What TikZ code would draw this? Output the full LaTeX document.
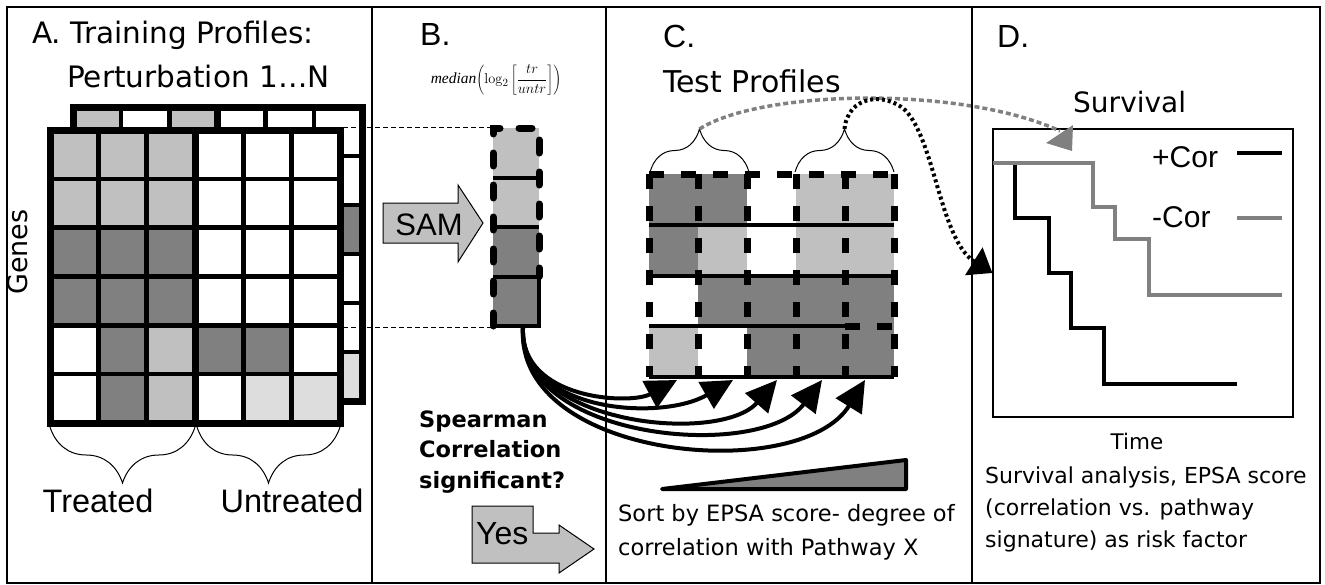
\documentclass[tikz,border=0pt]{standalone}
\usepackage[no-math]{fontspec}
\setmainfont{DejaVu Sans}
\newfontfamily\arialfont{Liberation Sans}
\newfontfamily\timesfont{Liberation Serif}
\usetikzlibrary{arrows.meta,decorations.pathreplacing}
\definecolor{lgray}{HTML}{C0C0C0}
\definecolor{dgray}{HTML}{808080}
\definecolor{vlgray}{HTML}{DDDDDD}
\newcommand{\textpx}[2]{\fontsize{#1}{#2}\selectfont}

\begin{document}
\begin{tikzpicture}[x=1pt,y=-1pt,
  grid line/.style={line width=4.5pt},
  edge line/.style={line width=7pt},
  square dash/.style={line width=7pt,dash pattern=on 15pt off 17pt},
  round dash/.style={line width=7pt,line cap=round,dash pattern=on 13pt off 19pt},
  link/.style={line width=4pt,-{Triangle[length=31pt,width=30pt]}},
  black dot/.style={line width=4pt,dash pattern=on 3pt off 3pt,-{Triangle[length=22pt,width=32pt]}},
  gray dot/.style={line width=3.5pt,dgray,dash pattern=on 5pt off 3pt},
  curly/.style={decorate,decoration={brace,amplitude=#1},line width=1pt},
  txt/.style={inner sep=0pt,anchor=base west},
  big label/.style={txt,font=\arialfont\textpx{32}{36}}]

\useasboundingbox (0,0) rectangle (1325,584);

% A: back sheet
\fill[white] (73,107) rectangle (362,401);
\foreach \col [count=\c from 0] in {lgray,white,lgray,white,white,white}
  \fill[\col] ({73+\c*48.17},107) rectangle ++(48.17,49);
\foreach \col [count=\r from 0] in {white,white,dgray,white,white,vlgray}
  \fill[\col] (313.8,{107+\r*49}) rectangle ++(48.2,49);
\foreach \i in {1,...,5} {
  \draw[grid line] ({73+\i*48.17},107) -- ++(0,294);
  \draw[grid line] (73,{107+\i*49}) -- ++(289,0);
}
\draw[edge line] (217.5,107) -- ++(0,294);
\draw[edge line] (73,107) rectangle (362,401);

% A: front sheet
\foreach \row [count=\r from 0] in {{lgray,lgray,lgray,white,white,white},
    {lgray,lgray,lgray,white,white,white},{dgray,dgray,dgray,white,white,white},
    {dgray,dgray,dgray,white,white,white},{white,dgray,lgray,dgray,dgray,white},
    {white,dgray,lgray,white,vlgray,vlgray}}
  \foreach \col [count=\c from 0] in \row
    \fill[\col] ({50+\c*48.33},{130+\r*48.83}) rectangle ++(48.33,48.83);
\foreach \i in {1,...,5} {
  \draw[grid line] ({50+\i*48.33},130) -- ++(0,293);
  \draw[grid line] (50,{130+\i*48.83}) -- ++(290,0);
}
\draw[edge line] (195,130) -- ++(0,293);
\draw[edge line] (50,130) rectangle (340,423);

\node[txt,font=\textpx{29.5}{32}] (titleA) at (32,43) {A. Training Profiles:};
\node[txt,font=\textpx{29.5}{32}] (pert) at (67,87) {Perturbation 1…N};
\node[rotate=90,inner sep=0pt,font=\textpx{27}{30}] (genes) at (18,252) {Genes};
\draw[curly=56pt] (195,427) -- (50,427);
\draw[curly=56pt] (340,427) -- (197,427);
\node[inner sep=0pt,anchor=base,font=\arialfont\textpx{32.5}{36}] (treated) at (98,512) {Treated};
\node[inner sep=0pt,anchor=base,font=\arialfont\textpx{32.5}{36}] (untreated) at (292,512) {Untreated};

% B
\coordinate (atop) at (343,127);
\coordinate (abot) at (343,327);
\coordinate (btop) at (493,127);
\coordinate (bbot) at (493,327);
\draw[line width=1pt,dash pattern=on 5pt off 3pt] (atop) -- (btop) (abot) -- (bbot);
\foreach \col [count=\r from 0] in {lgray,lgray,dgray,dgray}
  \fill[\col] (493,{128+\r*49.5}) rectangle ++(46,49.5);
\draw[line width=4pt] (493,177.5) -- ++(46,0) (493,227) -- ++(46,0) (493,276.5) -- ++(46,0)
  (493,326) -- (539,326) -- (539,276.5);
\draw[round dash] (493,326) -- (493,128) -- (539,128) -- (539,276.5);

\node[big label] (labB) at (420,45) {B.};
\node[inner sep=0pt,font=\timesfont\textpx{15.5}{18}] (formula) at (496,80)
  {\textit{median}$\displaystyle\left(\log_2\left[\frac{tr}{untr}\right]\right)$};
\draw[fill=lgray,line width=1pt] (383,203) -- (458,203) -- (458,185) -- (483,223)
  -- (458,262) -- (458,243) -- (383,243) -- cycle;
\node[inner sep=0pt,anchor=base,font=\arialfont\textpx{31}{34}] (sam) at (429,235) {SAM};
\node[txt,align=left,font=\bfseries\textpx{22.5}{30.5}] (spear) at (419,488)
  {Spearman\\Correlation\\significant?};
\draw[fill=lgray,line width=1pt] (472,506) -- (533,506) -- (533,533) -- (559,533) -- (559,525)
  -- (594,549) -- (559,573) -- (559,563) -- (472,563) -- cycle;
\node[txt,font=\arialfont\textpx{32}{36}] (yes) at (476,544) {Yes};

% C
\foreach \row [count=\r from 0] in {{dgray,dgray,white,lgray,lgray},
    {dgray,lgray,white,lgray,lgray},{white,dgray,dgray,dgray,dgray},
    {lgray,white,dgray,dgray,dgray}}
  \foreach \col [count=\c from 0] in \row
    \fill[\col] ({649+\c*49},{174+\r*50.75}) rectangle ++(49,50.75);
\draw[line width=4pt] (649,224.75) -- ++(245,0) (649,275.5) -- ++(245,0)
  (649,326.25) -- ++(196,0) (649,377) -- ++(245,0);
\foreach \i in {0,...,5}
  \draw[square dash] ({649+\i*49},174) -- ++(0,203);
\draw[square dash] (649,174) -- (894,174) (845,326.25) -- (894,326.25);

\node[big label] (labC) at (663,47) {C.};
\node[txt,font=\textpx{30}{34}] (test) at (663,92) {Test Profiles};
\draw[curly=43pt] (650,172) -- (749,172);
\draw[curly=43pt] (795,172) -- (894,172);
\coordinate (lb) at (699.5,129);
\coordinate (rb) at (844.5,129);

\coordinate (src) at (523,328);
\coordinate (t1) at (677,380);
\coordinate (t2) at (733,380);
\coordinate (t3) at (777,380);
\coordinate (t4) at (822,380);
\coordinate (t5) at (865,380);
\draw[link] (src) .. controls (520,400) and (630,405) .. (t1);
\draw[link] (src) .. controls (520,412) and (660,422) .. (t2);
\draw[link] (src) .. controls (518,425) and (720,445) .. (t3);
\draw[link] (src) .. controls (516,440) and (760,462) .. (t4);
\draw[link] (src) .. controls (515,460) and (800,485) .. (t5);

\draw[line width=4pt,fill=dgray,line join=round] (662,489) -- (906,460) -- (906,489) -- cycle;
\node[txt,align=left,font=\textpx{22.5}{34}] (sort) at (618,555)
  {Sort by EPSA score- degree of\\correlation with Pathway X};

% D
\node[big label] (labD) at (997,47) {D.};
\node[txt,font=\textpx{28}{32}] (surv) at (1073,112) {Survival};
\node[draw,line width=1.2pt,minimum width=300pt,minimum height=288pt,inner sep=0pt] (chart) at (1143,273) {};
\draw[line width=4pt] (1015,163) |- (1049,218) |- (1071,273) |- (1104,328) |- (1237,384);
\draw[line width=4pt,dgray] (993,163) -| (1093,207) -| (1115,239) -| (1149,295) -- (1282,295);
\node[txt,font=\arialfont\textpx{30}{34}] (pcor) at (1152,167) {+Cor};
\node[txt,font=\arialfont\textpx{30}{34}] (mcor) at (1152,227) {-Cor};
\draw[line width=4pt] (1237,153) -- (1282,153);
\draw[line width=4pt,dgray] (1237,218) -- (1282,218);
\node[inner sep=0pt,anchor=base,font=\textpx{21.5}{24}] (time) at (1137,449) {Time};
\node[txt,align=left,font=\textpx{22}{32}] (analysis) at (985,547)
  {Survival analysis, EPSA score\\(correlation vs. pathway\\signature) as risk factor};

\coordinate (gend) at (1060,131);
\draw[gray dot] (lb) .. controls (760,90) and (960,85) .. (gend);
\fill[dgray] (1046,143) -- (1073,125) -- (1072,151) -- cycle;
\draw[black dot] (rb) .. controls (848,95) and (885,92) .. (905,110)
  .. controls (935,140) and (940,240) .. (chart.west);

% panels
\draw[line width=1.5pt] (7,7) rectangle (1320,583);
\draw[line width=1.5pt] (372,7) -- (372,583) (606,7) -- (606,583) (972,7) -- (972,583);
\end{tikzpicture}
\end{document}
